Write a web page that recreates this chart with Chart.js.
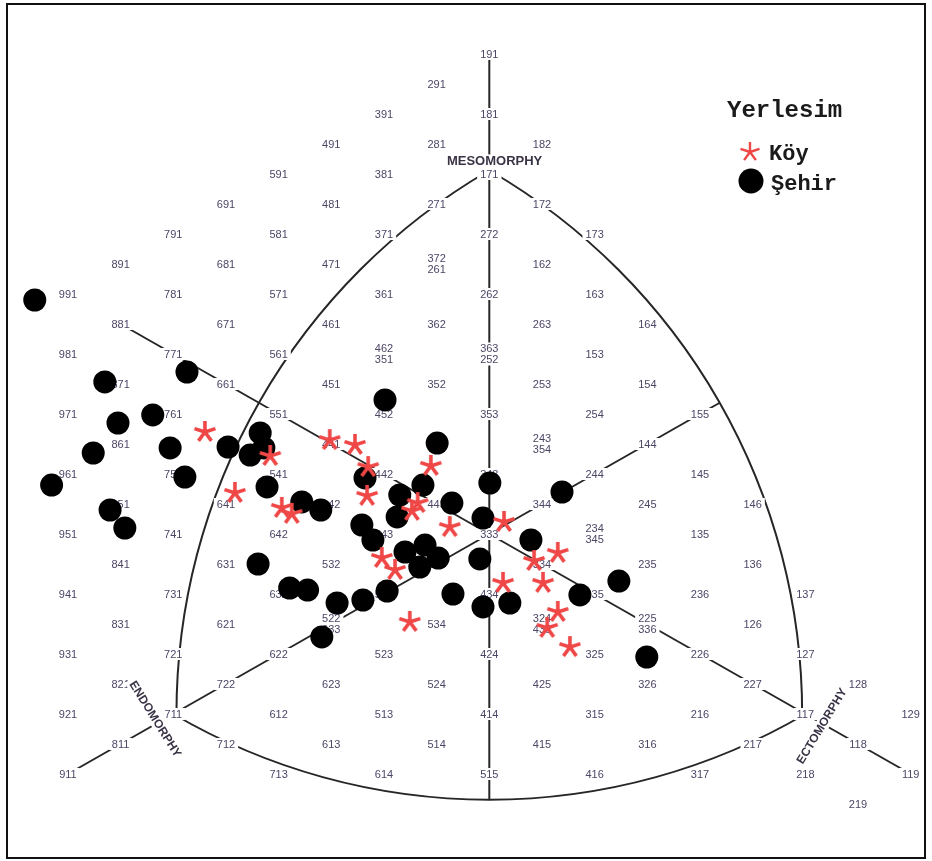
<!DOCTYPE html>
<html>
<head>
<meta charset="utf-8">
<script src="https://cdn.jsdelivr.net/npm/chart.js@4.4.1/dist/chart.umd.min.js"></script>
<style>
  html, body { margin: 0; padding: 0; background: #fff; }
  #wrap { width: 932px; height: 861px; }
</style>
</head>
<body>
<div id="wrap"><canvas id="soma" width="932" height="861"></canvas></div>
<script>
// Somatochart coordinates: X = ecto - endo, Y = 2*meso - (endo + ecto)

// Köy (village) subjects
const koyX = [-5.40, -3.03, -2.55, -1.11, -2.30, -2.32, -4.83, -3.94, -3.75, -1.36, -1.47, -0.75,
               0.28, -2.04, -1.79,  1.30,  0.85,  0.26,  1.02,  1.30,  1.10,  1.53, -1.51, -4.16];
const koyY = [ 3.40,  3.13,  2.97,  2.27,  2.23,  1.27,  1.37,  0.87,  0.67,  1.03,  0.77,  0.23,
               0.40, -0.80, -1.20, -0.63, -0.90, -1.63, -1.63, -2.60, -3.13, -3.77, -2.93,  2.60];

// Şehir (city) subjects
const sehirX = [-8.63, -7.30, -5.74, -1.98, -6.39, -7.05, -7.52, -6.06, -8.31, -5.78, -7.20, -6.92,
                -4.96, -4.35, -4.28, -4.54, -4.22, -0.99, -2.36, -3.56, -3.20,  0.01,  1.38, -1.26,
                -1.70, -0.71, -1.75, -0.12, -2.42, -2.21,  0.79, -1.22, -1.60, -0.97, -1.32, -0.18,
                -4.39, -3.79, -3.45, -2.89, -2.40, -1.94, -0.69, -0.12,  0.39,  1.72,  2.46, -3.18, 2.99];
const sehirY = [ 7.80,  5.07,  5.40,  4.47,  3.97,  3.70,  2.70,  2.87,  1.63,  1.90,  0.80,  0.20,
                 2.90,  3.37,  2.87,  2.63,  1.57,  3.03,  1.87,  1.07,  0.80,  1.70,  1.40,  1.63,
                 1.30,  1.03,  0.57,  0.53,  0.30, -0.20, -0.20, -0.37, -0.60, -0.80, -1.10, -0.83,
                -1.00, -1.80, -1.87, -2.30, -2.20, -1.90, -2.00, -2.43, -2.30, -2.03, -1.57, -3.43, -4.10];

// Somatotype codes printed on the chart (two codes sharing a spot are stacked)
const gridCodes = [
  '191', '291', '391', '181', '491', '281', '182', '591', '381', '171',
  '691', '481', '271', '172', '791', '581', '371', '272', '173',
  '891', '681', '471', '372/261', '162', '991', '781', '571', '361', '262', '163',
  '881', '671', '461', '362', '263', '164', '981', '771', '561', '462/351', '363/252', '153',
  '871', '661', '451', '352', '253', '154', '971', '761', '551', '452', '353', '254', '155',
  '861', '651', '441', '342', '243/354', '144', '961', '751', '541', '442', '343', '244', '145',
  '851', '641', '542', '443', '344', '245', '146', '951', '741', '642', '543', '333', '234/345', '135',
  '841', '631', '532', '433', '334', '235', '136', '941', '731', '632', '533', '434', '335', '236', '137',
  '831', '621', '522/633', '534', '324/435', '225/336', '126',
  '931', '721', '622', '523', '424', '325', '226', '127',
  '821', '722', '623', '524', '425', '326', '227', '128',
  '921', '711', '612', '513', '414', '315', '216', '117', '129',
  '811', '712', '613', '514', '415', '316', '217', '118',
  '911', '713', '614', '515', '416', '317', '218', '119', '219'
];

// Component names and where they sit (chart units), with text rotation in degrees
const componentNames = ['MESOMORPHY', 'ENDOMORPHY', 'ECTOMORPHY'];
const componentX = [0.10, -6.34, 6.31];
const componentY = [12.42, -6.17, -6.40];
const componentRot = [0, 58, -59];

const legendTitle = 'Yerlesim';

function somato(code) {
  const e = +code[0], m = +code[1], c = +code[2];
  return { x: c - e, y: 2 * m - e - c };
}

const STAR_COLOR = '#ef4646';

function starPath(ctx, cx, cy, len) {
  ctx.beginPath();
  for (let k = 0; k < 5; k++) {
    const a = -Math.PI / 2 + k * 2 * Math.PI / 5;
    ctx.moveTo(cx, cy);
    ctx.lineTo(cx + len * Math.cos(a), cy + len * Math.sin(a));
  }
}

function makeStar(size, len, lw) {
  const c = document.createElement('canvas');
  c.width = size; c.height = size;
  const g = c.getContext('2d');
  g.strokeStyle = STAR_COLOR;
  g.lineWidth = lw;
  g.lineCap = 'butt';
  starPath(g, size / 2, size / 2, len);
  g.stroke();
  return c;
}

const starImg = makeStar(26, 11, 3.6);

function arcThrough(ctx, p, q, o) {
  // circular arc from p to q, bulging away from the opposite vertex o
  const r = (Math.hypot(o.x - p.x, o.y - p.y) + Math.hypot(o.x - q.x, o.y - q.y)) / 2;
  const mx = (p.x + q.x) / 2, my = (p.y + q.y) / 2;
  const h = Math.hypot(q.x - p.x, q.y - p.y) / 2;
  const d = Math.sqrt(Math.max(r * r - h * h, 0));
  const ul = Math.hypot(o.x - mx, o.y - my);
  const cx = mx + (o.x - mx) / ul * d, cy = my + (o.y - my) / ul * d;
  const a1 = Math.atan2(p.y - cy, p.x - cx), a2 = Math.atan2(q.y - cy, q.x - cx);
  let delta = a2 - a1;
  while (delta > Math.PI) delta -= 2 * Math.PI;
  while (delta < -Math.PI) delta += 2 * Math.PI;
  ctx.beginPath();
  ctx.arc(cx, cy, r, a1, a2, delta < 0);
  ctx.stroke();
  return { cx, cy, r };
}

function rayCircle(s, t, c) {
  // farthest intersection of the ray s->t with circle c
  const dx = t.x - s.x, dy = t.y - s.y;
  const fx = s.x - c.cx, fy = s.y - c.cy;
  const A = dx * dx + dy * dy, B = 2 * (fx * dx + fy * dy), C = fx * fx + fy * fy - c.r * c.r;
  const k = (-B + Math.sqrt(B * B - 4 * A * C)) / (2 * A);
  return { x: s.x + k * dx, y: s.y + k * dy };
}

const somatochartPlugin = {
  id: 'somatochart',
  beforeDatasetsDraw(chart) {
    const { ctx, scales: { x, y } } = chart;
    const P = code => { const s = somato(code); return { x: x.getPixelForValue(s.x), y: y.getPixelForValue(s.y) }; };
    const endoV = P('711'), mesoV = P('171'), ectoV = P('117');
    ctx.save();
    ctx.strokeStyle = '#262626';
    ctx.lineWidth = 2;
    arcThrough(ctx, endoV, mesoV, ectoV);
    const rightArc = arcThrough(ctx, mesoV, ectoV, endoV);
    const bottomArc = arcThrough(ctx, ectoV, endoV, mesoV);

    // mesomorphy axis, down to the lower arc
    const top = P('191');
    const yEnd = bottomArc.cy + Math.sqrt(bottomArc.r * bottomArc.r - (top.x - bottomArc.cx) ** 2);
    ctx.beginPath(); ctx.moveTo(top.x, top.y); ctx.lineTo(top.x, yEnd); ctx.stroke();

    // endomorphy-to-ectomorphy diagonal
    const a = P('881'), b = P('119');
    ctx.beginPath(); ctx.moveTo(a.x, a.y); ctx.lineTo(b.x, b.y); ctx.stroke();

    // diagonal from 911 through the centre to the right arc
    const s = P('911'), mid = P('333');
    const e = rayCircle(s, mid, rightArc);
    ctx.beginPath(); ctx.moveTo(s.x, s.y); ctx.lineTo(e.x, e.y); ctx.stroke();

    // somatotype code labels
    ctx.font = '11px "Liberation Sans", Arial, sans-serif';
    ctx.textAlign = 'center';
    ctx.textBaseline = 'middle';
    gridCodes.forEach(entry => {
      const parts = entry.split('/');
      const p = P(parts[0]);
      parts.forEach((txt, i) => {
        const yy = p.y + (i - (parts.length - 1) / 2) * 11;
        const w = ctx.measureText(txt).width;
        ctx.fillStyle = '#ffffff';
        ctx.fillRect(p.x - w / 2 - 3, yy - 6, w + 6, 12);
        ctx.fillStyle = '#4d4566';
        ctx.fillText(txt, p.x, yy + 0.5);
      });
    });

    // component names
    componentNames.forEach((name, i) => {
      const px = x.getPixelForValue(componentX[i]), py = y.getPixelForValue(componentY[i]);
      ctx.save();
      ctx.translate(px, py);
      ctx.rotate(componentRot[i] * Math.PI / 180);
      ctx.font = (i === 0 ? 'bold 13px' : 'bold 12px') + ' "Liberation Sans", Arial, sans-serif';
      const w = ctx.measureText(name).width;
      ctx.fillStyle = '#ffffff';
      ctx.fillRect(-w / 2 - 3, -7, w + 6, 14);
      ctx.fillStyle = '#3a3346';
      ctx.fillText(name, 0, 0.5);
      ctx.restore();
    });
    ctx.restore();
  },
  afterDraw(chart) {
    const { ctx } = chart;
    ctx.save();
    // legend
    ctx.fillStyle = '#1a1a1a';
    ctx.textAlign = 'left';
    ctx.textBaseline = 'alphabetic';
    ctx.font = 'bold 24px "Liberation Mono", "Courier New", monospace';
    ctx.fillText(legendTitle, 727, 117);
    ctx.font = 'bold 22px "Liberation Mono", "Courier New", monospace';
    const ds = chart.data.datasets;
    // Köy
    ctx.strokeStyle = STAR_COLOR;
    ctx.lineWidth = 2.4;
    starPath(ctx, 750, 152, 10);
    ctx.stroke();
    ctx.fillText(ds[0].label, 769, 160);
    // Şehir
    ctx.fillStyle = '#000';
    ctx.beginPath(); ctx.arc(751, 181, 12.5, 0, Math.PI * 2); ctx.fill();
    ctx.fillStyle = '#1a1a1a';
    ctx.fillText(ds[1].label, 771, 190);
    // frame
    ctx.strokeStyle = '#111';
    ctx.lineWidth = 2;
    ctx.strokeRect(7, 4, chart.width - 14, chart.height - 7);
    ctx.restore();
  }
};

const pts = (xs, ys) => xs.map((v, i) => ({ x: v, y: ys[i] }));

new Chart(document.getElementById('soma'), {
  type: 'scatter',
  data: {
    datasets: [
      {
        label: 'Köy',
        data: pts(koyX, koyY),
        pointStyle: starImg,
        pointRadius: 11,
        backgroundColor: STAR_COLOR,
        borderColor: STAR_COLOR
      },
      {
        label: 'Şehir',
        data: pts(sehirX, sehirY),
        pointStyle: 'circle',
        pointRadius: 11.5,
        borderWidth: 0,
        backgroundColor: '#000',
        borderColor: '#000'
      }
    ]
  },
  options: {
    responsive: false,
    animation: false,
    layout: { padding: 0, autoPadding: false },
    plugins: { legend: { display: false }, tooltip: { enabled: false } },
    scales: {
      x: { type: 'linear', min: -9.29, max: 8.405, display: false },
      y: { type: 'linear', min: -10.9, max: 17.8, display: false }
    }
  },
  plugins: [somatochartPlugin]
});
</script>
</body>
</html>
